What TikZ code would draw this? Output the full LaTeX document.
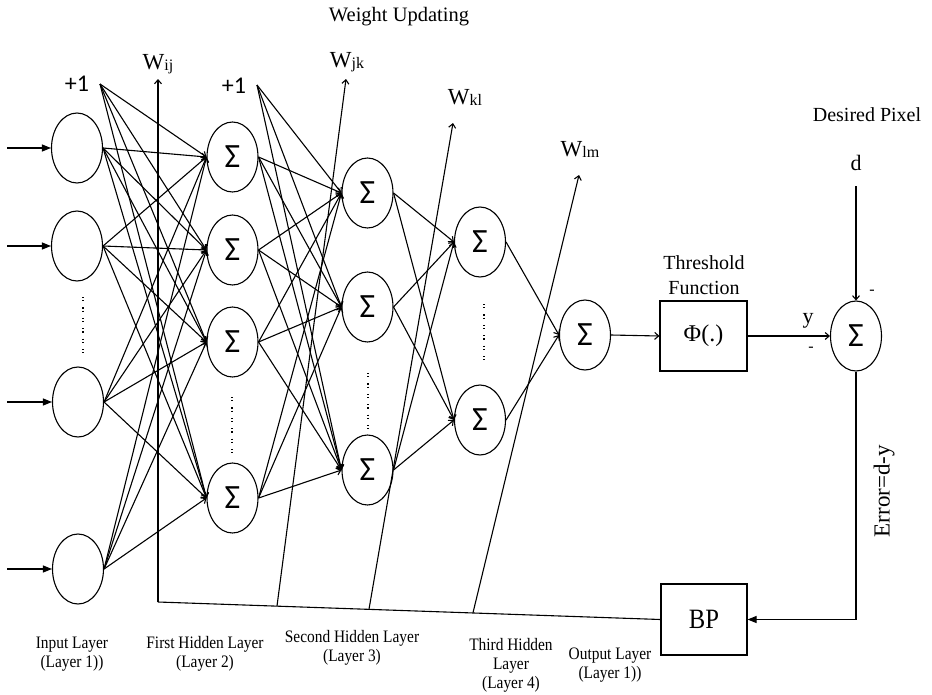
\documentclass[tikz,border=0pt]{standalone}
\usepackage{fontspec}
\setmainfont{Liberation Serif}
\newfontfamily\narrowserif{Liberation Serif}[FakeStretch=0.88]
\newfontfamily\calib{Carlito}
\usetikzlibrary{shapes.geometric,arrows.meta}
\begin{document}
\begin{tikzpicture}[x=1pt,y=-1pt,line width=1.1pt,
  neuron/.style={draw,ellipse,minimum width=51pt,minimum height=70pt,inner sep=0pt,font=\calib\fontsize{34}{34}\selectfont},
  blockbox/.style={draw,rectangle,inner sep=0pt},
  conn/.style={-{Straight Barb[length=4pt,width=7pt]}},
  filltip/.style={-{Triangle[length=9pt,width=7pt]}},
  lab/.style={font=\narrowserif\fontsize{17.5}{19}\selectfont,align=center,inner sep=0pt},
  big/.style={font=\fontsize{20}{25}\selectfont,align=center,inner sep=0pt},
  dotcol/.style={line width=1.2pt,dash pattern=on 1.2pt off 2pt on 1.2pt off 6pt}]
\useasboundingbox (0,0) rectangle (932,694);

% input layer
\node[neuron] (i1) at (77,148) {};
\node[neuron] (i2) at (77,246) {};
\node[neuron] (i3) at (78,402) {};
\node[neuron] (i4) at (78,569) {};
\draw[dotcol] (83,297) -- (83,356);
\foreach \n/\y in {1/148,2/246,3/402,4/569}{
  \coordinate (in\n) at (7,\y);
  \draw[filltip] (in\n) -- (i\n.west);
}

% first hidden layer
\node[neuron] (h1a) at (232.5,157) {Σ};
\node[neuron] (h1b) at (232.5,250) {Σ};
\node[neuron] (h1c) at (232.5,342) {Σ};
\node[neuron] (h1d) at (232.5,498) {Σ};
\draw[dotcol] (232,397) -- (232,454);

% second hidden layer
\node[neuron] (h2a) at (367.5,193) {Σ};
\node[neuron] (h2b) at (367.5,307) {Σ};
\node[neuron] (h2c) at (367.5,470) {Σ};
\draw[dotcol] (368,373) -- (368,429);

% third hidden layer
\node[neuron] (h3a) at (480,242) {Σ};
\node[neuron] (h3b) at (480,420) {Σ};
\draw[dotcol] (484,304) -- (484,362);

% output
\node[neuron] (out) at (585,335) {Σ};
\node[blockbox,minimum width=87pt,minimum height=70pt,font=\fontsize{24}{24}\selectfont] (phi) at (703.5,336) {Φ(.)};
\node[big] (thr) at (704,275.5) {Threshold\\Function};
\node[neuron] (sum) at (856,336) {Σ};

% biases
\node[font=\calib\fontsize{24}{24}\selectfont,inner sep=0pt] (b1) at (77,84) {+1};
\coordinate (b1o) at (100,84);
\node[font=\calib\fontsize{24}{24}\selectfont,inner sep=0pt] (b2) at (234,86) {+1};
\coordinate (b2o) at (257,85);

% connections
\foreach \s in {i1,i2,i3,i4}
  \foreach \t in {h1a,h1b,h1c,h1d}
    \draw[conn] (\s.east) -- (\t.west);
\foreach \t in {h1a,h1b,h1c,h1d}
  \draw[conn] (b1o) -- (\t.west);
\foreach \s in {h1a,h1b,h1c,h1d}
  \foreach \t in {h2a,h2b,h2c}
    \draw[conn] (\s.east) -- (\t.west);
\foreach \t in {h2a,h2b,h2c}
  \draw[conn] (b2o) -- (\t.west);
\foreach \s in {h2a,h2b,h2c}
  \foreach \t in {h3a,h3b}
    \draw[conn] (\s.east) -- (\t.west);
\foreach \s in {h3a,h3b}
  \draw[conn] (\s.east) -- (out.west);
\draw[conn] (out.east) -- (phi.west);
\draw[conn] (phi.east) -- (sum.west);

% desired
\node[big] (dp) at (867,115) {Desired Pixel};
\node[big,font=\fontsize{22}{22}\selectfont] (d) at (856,163) {d};
\coordinate (dtop) at (856,186);
\draw[conn] (dtop) -- (sum.north);
\node[big,font=\fontsize{22}{22}\selectfont] (ylab) at (808,321) {y};
\node[font=\fontsize{16}{16}\selectfont,inner sep=0pt] (m1) at (811,349) {-};
\node[font=\fontsize{16}{16}\selectfont,inner sep=0pt] (m2) at (872,292) {-};

% back-propagation
\node[blockbox,minimum width=86pt,minimum height=71pt,font=\narrowserif\fontsize{28}{28}\selectfont] (bp) at (704,619.5) {BP};
\draw[filltip] (sum.south) |- (bp.east);
\node[font=\fontsize{23}{23}\selectfont,rotate=90,inner sep=0pt] (err) at (884,491) {Error=d-y};
\coordinate (j1) at (158,602);
\coordinate (j2) at (277,606);
\coordinate (j3) at (369,609.2);
\coordinate (j4) at (473,612.7);
\draw (bp.west) -- (j1);
\coordinate (t1) at (158,79);
\coordinate (t2) at (346,79);
\coordinate (t3) at (453,123);
\coordinate (t4) at (579,175);
\draw[conn] (j1) -- (t1);
\draw[conn] (j2) -- (t2);
\draw[conn] (j3) -- (t3);
\draw[conn] (j4) -- (t4);
\node[inner sep=0pt] (wij) at (158,64) {\fontsize{23}{23}\selectfont W\raisebox{-1pt}{\fontsize{16}{16}\selectfont ij}};
\node[inner sep=0pt] (wjk) at (347,62) {\fontsize{23}{23}\selectfont W\raisebox{-1pt}{\fontsize{16}{16}\selectfont jk}};
\node[inner sep=0pt] (wkl) at (465,97) {\fontsize{23}{23}\selectfont W\raisebox{-1pt}{\fontsize{16}{16}\selectfont kl}};
\node[inner sep=0pt] (wlm) at (580,149) {\fontsize{23}{23}\selectfont W\raisebox{-1pt}{\fontsize{16}{16}\selectfont lm}};

\node[big,font=\fontsize{20.5}{25}\selectfont] (wu) at (399,17) {Weight Updating};

% layer labels
\node[lab] (l1) at (72,654) {Input Layer\\(Layer 1))};
\node[lab] (l2) at (205,654) {First Hidden Layer\\(Layer 2)};
\node[lab] (l3) at (352,648) {Second Hidden Layer\\(Layer 3)};
\node[lab] (l4) at (511,665) {Third Hidden\\Layer\\(Layer 4)};
\node[lab] (l5) at (610,665) {Output Layer\\(Layer 1))};
\end{tikzpicture}
\end{document}
